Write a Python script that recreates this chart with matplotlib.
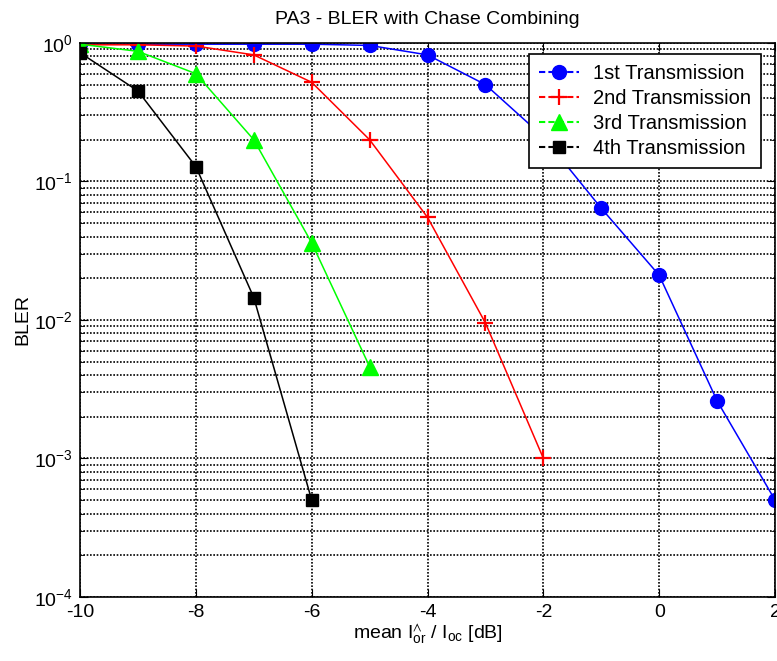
import matplotlib
matplotlib.use("Agg")
import matplotlib.pyplot as plt
from matplotlib.lines import Line2D
from matplotlib.ticker import LogLocator

plt.rcParams["font.family"] = ["Liberation Sans", "DejaVu Sans"]
plt.rcParams["mathtext.fontset"] = "custom"
plt.rcParams["mathtext.rm"] = "Liberation Sans"
plt.rcParams["mathtext.it"] = "Liberation Sans"
plt.rcParams["mathtext.default"] = "regular"
plt.rcParams["axes.unicode_minus"] = False

# data
x1 = [-10, -9, -8, -7, -6, -5, -4, -3, -2, -1, 0, 1, 2]
bler1 = [0.98, 0.98, 0.98, 0.98, 0.98, 0.96, 0.82, 0.5, 0.21, 0.064, 0.021, 0.0026, 0.0005]
x2 = [-10, -9, -8, -7, -6, -5, -4, -3, -2]
bler2 = [0.97, 0.97, 0.95, 0.82, 0.52, 0.2, 0.055, 0.0095, 0.001]
x3 = [-10, -9, -8, -7, -6, -5]
bler3 = [0.98, 0.87, 0.6, 0.2, 0.036, 0.0046]
x4 = [-10, -9, -8, -7, -6]
bler4 = [0.85, 0.45, 0.128, 0.0145, 0.0005]
labels = ["1st Transmission", "2nd Transmission", "3rd Transmission", "4th Transmission"]

FS = 14
fig = plt.figure(figsize=(7.77, 6.61), dpi=100)
ax = fig.add_axes([0.103, 0.097, 0.8945, 0.838])

ax.semilogy(x1, bler1, "-o", color="blue", lw=1.1, ms=10)
ax.semilogy(x2, bler2, "-+", color="red", lw=1.1, ms=11, mew=1.6)
ax.semilogy(x3, bler3, "-^", color="#00ff00", lw=1.1, ms=11)
ax.semilogy(x4, bler4, "-s", color="black", lw=1.1, ms=9)

ax.set_xlim(-10, 2)
ax.set_ylim(1e-4, 1)
ax.set_xticks([-10, -8, -6, -4, -2, 0, 2])
ax.yaxis.set_major_locator(LogLocator(base=10))
ax.yaxis.set_minor_locator(LogLocator(base=10, subs=range(2, 10)))
dots = (0, (1, 1))
ax.grid(True, which="major", axis="both", ls=dots, color="black", lw=1.2)
ax.grid(True, which="minor", axis="y", ls=dots, color="black", lw=1.2)
ax.tick_params(which="both", direction="in", top=True, right=True, labelsize=FS)
ax.tick_params(axis="x", pad=5)
ax.tick_params(axis="y", pad=5)
ax.tick_params(which="major", length=6)
ax.tick_params(which="minor", length=3)
for s in ax.spines.values():
    s.set_linewidth(1.2)

ax.set_title("PA3 - BLER with Chase Combining", fontsize=FS, pad=14)
ax.set_ylabel("BLER", fontsize=FS, labelpad=2)
ax.set_xlabel(r"mean I$^{\wedge}_{or}$ / I$_{oc}$ [dB]", fontsize=FS, labelpad=1)

# legend lines come out dashed in the reference
handles = [
    Line2D([], [], color="blue", ls=(0, (3, 1.5)), marker="o", ms=10),
    Line2D([], [], color="red", ls=(0, (3, 1.5)), marker="+", ms=11, mew=1.6),
    Line2D([], [], color="#00ff00", ls=(0, (3, 1.5)), marker="^", ms=11),
    Line2D([], [], color="black", ls=(0, (3, 1.5)), marker="s", ms=9),
]
leg = ax.legend(handles, labels, loc="upper right", bbox_to_anchor=(0.98, 0.98),
                borderaxespad=0, fontsize=14.5, fancybox=False, framealpha=1,
                edgecolor="black", handlelength=2.0, handletextpad=0.7,
                labelspacing=0.3, borderpad=0.5)
leg.get_frame().set_linewidth(1.2)

fig.savefig("out.png", dpi=100)
